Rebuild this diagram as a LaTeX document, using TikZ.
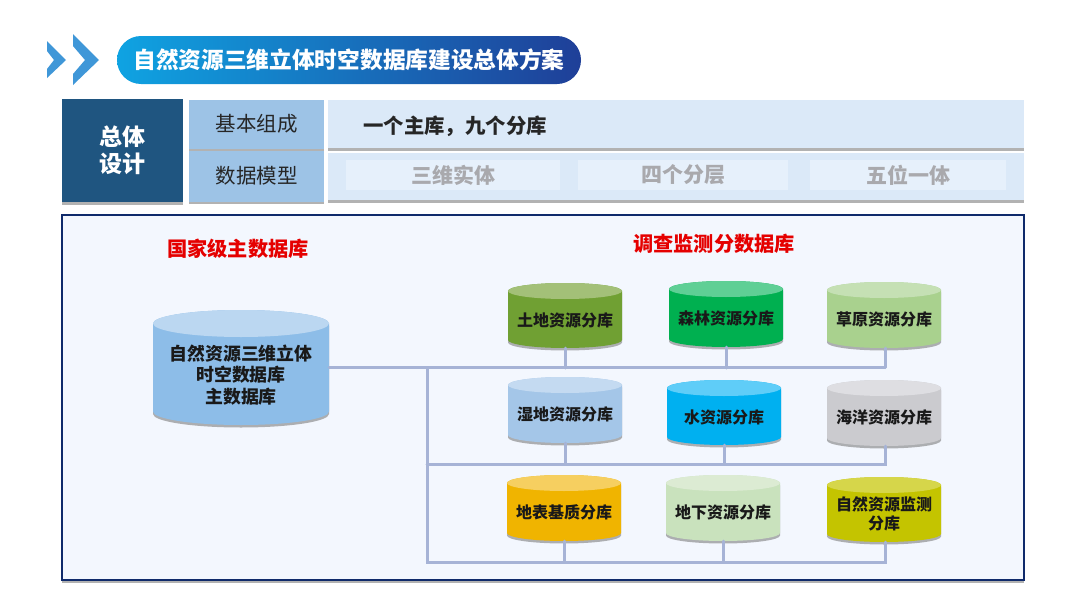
\documentclass[tikz,border=0pt]{standalone}
\usepackage{fontspec}
\setmainfont{Noto Sans CJK SC}
\usetikzlibrary{shadows}
\definecolor{busc}{HTML}{A6B3D6}
\definecolor{frameb}{HTML}{0F2A6B}
\definecolor{framef}{HTML}{F3F7FE}
\definecolor{pilla}{HTML}{0FA3E2}
\definecolor{pillb}{HTML}{1F3F98}
\definecolor{chev}{HTML}{3F97D8}
\definecolor{navy}{HTML}{1F5580}
\definecolor{midb}{HTML}{9DC3E6}
\definecolor{lightb}{HTML}{DBE9F8}
\definecolor{innerb}{HTML}{E6F0FB}
\definecolor{greytxt}{HTML}{A9A9AD}
\definecolor{mainS}{HTML}{8DBDE8}\definecolor{mainT}{HTML}{BBD7F1}
\definecolor{landS}{HTML}{70A033}\definecolor{landT}{HTML}{A3C078}
\definecolor{forestS}{HTML}{00B050}\definecolor{forestT}{HTML}{5FCF95}
\definecolor{grassS}{HTML}{A9D18E}\definecolor{grassT}{HTML}{C5E0B4}
\definecolor{wetS}{HTML}{A4C6E8}\definecolor{wetT}{HTML}{C4DAF1}
\definecolor{waterS}{HTML}{00B0F0}\definecolor{waterT}{HTML}{5FCDF8}
\definecolor{oceanS}{HTML}{CBCBCF}\definecolor{oceanT}{HTML}{DEDEE2}
\definecolor{geoS}{HTML}{F0B400}\definecolor{geoT}{HTML}{F6CF60}
\definecolor{underS}{HTML}{C9E2BD}\definecolor{underT}{HTML}{DCEBD3}
\definecolor{monS}{HTML}{C4C400}\definecolor{monT}{HTML}{D6D64A}
\tikzset{
  softshadow/.style={drop shadow={shadow xshift=0pt,shadow yshift=-2.5pt,fill=black!60,opacity=.5}},
  barbox/.style={rectangle,inner sep=0pt,softshadow},
  cyltext/.style={font=\bfseries\fontsize{16}{19}\selectfont,align=center,text=black!90,inner sep=0pt},
  mainlbl/.style={font=\bfseries\fontsize{17.9}{21.5}\selectfont,align=center,text=black!90,inner sep=0pt},
  redlbl/.style={font=\bfseries\fontsize{20.2}{24}\selectfont,text=red!90!black,inner sep=0pt},
  headlbl/.style={font=\fontsize{20.5}{24}\selectfont,text=black!85,inner sep=0pt},
  greylbl/.style={font=\bfseries\fontsize{21}{25}\selectfont,text=greytxt,inner sep=0pt},
  bus/.style={draw=busc,line width=3pt,line cap=round},
}
\def\cylsty{cyltext}
% name, x1, x2, top, bottom, ry, side colour, top colour, text
\newcommand{\dbcyl}[9]{%
  \pgfmathsetmacro{\cxx}{(#2+#3)/2}\pgfmathsetmacro{\rxx}{(#3-#2)/2}
  \pgfmathsetmacro{\kxx}{0.5523*\rxx}\pgfmathsetmacro{\kyy}{0.5523*#6}
  \pgfmathsetmacro{\yaa}{#4+#6}\pgfmathsetmacro{\ybb}{#5-#6}
  \pgfmathsetmacro{\cyy}{(#4+#5)/2}\pgfmathsetmacro{\tyy}{\cyy+#6/2+0.7}
  \path[fill=#7,softshadow] (#2,\yaa) .. controls (#2,\yaa-\kyy) and (\cxx-\kxx,#4) .. (\cxx,#4)
     .. controls (\cxx+\kxx,#4) and (#3,\yaa-\kyy) .. (#3,\yaa) -- (#3,\ybb)
     .. controls (#3,\ybb+\kyy) and (\cxx+\kxx,#5) .. (\cxx,#5)
     .. controls (\cxx-\kxx,#5) and (#2,\ybb+\kyy) .. (#2,\ybb) -- cycle;
  \path[fill=#8] (\cxx,\yaa) ellipse [x radius=\rxx,y radius=#6];
  \node[rectangle,inner sep=0pt,minimum width=#3pt-#2pt,minimum height=#5pt-#4pt] (#1) at (\cxx,\cyy) {};
  \node[\cylsty] (#1-t) at (\cxx,\tyy) {#9};
}
\begin{document}
\begin{tikzpicture}[x=1pt,y=-1pt]
\useasboundingbox (0,0) rectangle (1080,608);
\fill[white] (0,0) rectangle (1080,608);
% header chevrons
\fill[chev] (47,41) -- (66,60) -- (47,78) -- (47,69) -- (54,60) -- (47,51) -- cycle;
\fill[chev] (73,34) -- (99,60) -- (73,85) -- (73,74) -- (85,60) -- (73,46) -- cycle;
% title pill
\node[rectangle,rounded corners=24pt,minimum width=464pt,minimum height=48pt,inner sep=0pt,
  left color=pilla,right color=pillb,font=\bfseries\fontsize{22.7}{26}\selectfont,text=white] (title) at (349,60) {自然资源三维立体时空数据库建设总体方案\hspace{7pt}};
% top table
\node[barbox,fill=navy,minimum width=121pt,minimum height=103pt,font=\bfseries\fontsize{23}{27}\selectfont,align=center,text=white] (zongti) at (122.5,150.5) {总体\\设计};
\node[barbox,fill=midb,minimum width=135pt,minimum height=49pt,headlbl] (jiben) at (256.5,124) {基本组成};
\node[barbox,fill=midb,minimum width=135pt,minimum height=51pt,headlbl] (shuju) at (256.5,176) {数据模型};
\node[barbox,fill=lightb,minimum width=696pt,minimum height=48pt] (bar1) at (676,124) {};
\node[barbox,fill=lightb,minimum width=696pt,minimum height=47pt] (bar2) at (676,176.5) {};
\node[font=\bfseries\fontsize{20.4}{24}\selectfont,text=black!85,inner sep=0pt,anchor=west] (zhuku) at (363,126) {一个主库，九个分库};
\node[rectangle,fill=innerb,minimum width=214pt,minimum height=30pt,inner sep=0pt,greylbl] (san) at (453,175) {三维实体};
\node[rectangle,fill=innerb,minimum width=210pt,minimum height=30pt,inner sep=0pt,greylbl] (si) at (683,175) {四个分层};
\node[rectangle,fill=innerb,minimum width=196pt,minimum height=30pt,inner sep=0pt,greylbl] (wu) at (908,175) {五位一体};
% frame
\node[rectangle,draw=frameb,line width=2.5pt,fill=framef,minimum width=962pt,minimum height=365pt,inner sep=0pt,softshadow] (frame) at (543,397.5) {};
\node[redlbl] (guojia) at (238,249) {国家级主数据库};
\node[redlbl] (diaocha) at (714,244) {调查监测分数据库};
% cylinders
{\def\cylsty{mainlbl}
\dbcyl{main}{153}{329}{310}{425}{13.5}{mainS}{mainT}{自然资源三维立体\\时空数据库\\主数据库}}
\dbcyl{land}{508}{622}{283}{348}{8}{landS}{landT}{土地资源分库}
\dbcyl{forest}{669}{783}{281}{347}{8}{forestS}{forestT}{森林资源分库}
\dbcyl{grass}{827}{941}{282}{348}{8}{grassS}{grassT}{草原资源分库}
\dbcyl{wet}{508}{622}{377}{443}{8}{wetS}{wetT}{湿地资源分库}
\dbcyl{water}{667}{781}{380}{445}{8}{waterS}{waterT}{水资源分库}
\dbcyl{ocean}{827}{941}{380}{446}{8}{oceanS}{oceanT}{海洋资源分库}
\dbcyl{geo}{507}{621}{475}{541}{8}{geoS}{geoT}{地表基质分库}
\dbcyl{under}{666}{780}{475}{541}{8}{underS}{underT}{地下资源分库}
\dbcyl{mon}{827}{941}{477}{542}{8}{monS}{monT}{自然资源监测\\分库}
% connectors
\coordinate (busA) at (885,368);
\coordinate (busB) at (885,464);
\coordinate (busC) at (885,562);
\coordinate (trunkA) at (427,368);
\coordinate (trunkB) at (427,464);
\coordinate (trunkC) at (427,562);
\draw[bus] (main.east) -- (main.east -| busA);
\draw[bus] (main.east -| busA) -- (grass.south -| busA);
\draw[bus] (trunkA) -- (trunkC) -- (busC) -- (mon.south -| busC);
\draw[bus] (trunkB) -- (busB) -- (ocean.south -| busB);
\draw[bus] (land.south) -- (land.south |- busA);
\draw[bus] (forest.south) -- (forest.south |- busA);
\draw[bus] (wet.south) -- (wet.south |- busB);
\draw[bus] (water.south) -- (water.south |- busB);
\draw[bus] (geo.south) -- (geo.south |- busC);
\draw[bus] (under.south) -- (under.south |- busC);
\end{tikzpicture}
\end{document}
